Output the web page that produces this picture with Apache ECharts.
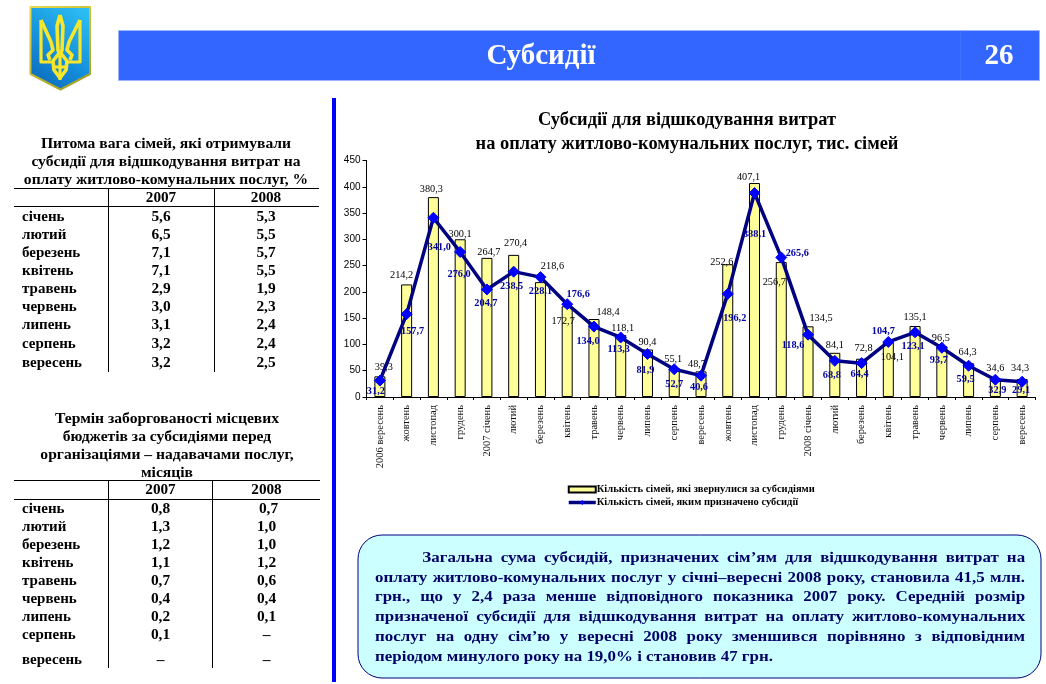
<!DOCTYPE html>
<html>
<head>
<meta charset="utf-8">
<style>
html,body{margin:0;padding:0;background:#fff;width:1046px;height:684px;overflow:hidden}
#c{position:absolute;left:0;top:0;width:1046px;height:684px}
#note{position:absolute;left:375px;top:547px;width:591px;transform:scaleX(1.1);transform-origin:0 0;font:bold 15.4px/19.7px "Liberation Serif",serif;color:#000066}
#note div{text-align:justify;text-align-last:justify;white-space:normal}
#note div.first{text-indent:43px}
#note div.last{text-align-last:left}
</style>
<script src="https://cdn.jsdelivr.net/npm/echarts@6/dist/echarts.min.js"></script>
</head>
<body>
<div id="c"></div>
<div id="note"></div>
<script>
const categories = ['2006 вересень','жовтень','листопад','грудень','2007 січень','лютий','березень','квітень','травень','червень','липень','серпень','вересень','жовтень','листопад','грудень','2008 січень','лютий','березень','квітень','травень','червень','липень','серпень','вересень'];
const applied = [39.3,214.2,380.3,300.1,264.7,270.4,218.6,172.7,148.4,118.1,90.4,55.1,48.7,252.6,407.1,256.7,134.5,84.1,72.8,104.1,135.1,96.5,64.3,34.6,34.3];
const granted = [31.2,157.7,341.0,276.0,204.7,238.5,228.1,176.6,134.0,113.3,81.9,52.7,40.6,196.2,388.1,265.6,118.6,68.8,64.4,104.7,123.1,93.7,59.5,32.9,29.1];
const seriesNames = ['Кількість сімей, які звернулися за субсидіями','Кількість сімей, яким призначено субсидії'];
const chartTitle = 'Субсидії для відшкодування витрат\nна оплату житлово-комунальних послуг, тис. сімей';
const months = ['січень','лютий','березень','квітень','травень','червень','липень','серпень','вересень'];
const share2007 = ['5,6','6,5','7,1','7,1','2,9','3,0','3,1','3,2','3,2'];
const share2008 = ['5,3','5,5','5,7','5,5','1,9','2,3','2,4','2,4','2,5'];
const debt2007 = ['0,8','1,3','1,2','1,1','0,7','0,4','0,2','0,1','–'];
const debt2008 = ['0,7','1,0','1,0','1,2','0,6','0,4','0,1','–','–'];
const table1Title = ['Питома вага сімей, які отримували','субсидії для відшкодування витрат на','оплату житлово-комунальних послуг, %'];
const table2Title = ['Термін заборгованості місцевих','бюджетів за субсидіями перед','організаціями – надавачами послуг,','місяців'];
const noteLines = ['Загальна сума субсидій, призначених сім’ям для відшкодування витрат на','оплату житлово-комунальних послуг у січні–вересні 2008 року, становила 41,5 млн.','грн., що у 2,4 раза менше відповідного показника 2007 року. Середній розмір','призначеної субсидії для відшкодування витрат на оплату житлово-комунальних','послуг на одну сім’ю у вересні 2008 року зменшився порівняно з відповідним','періодом минулого року на 19,0% і становив 47 грн.'];

// label nudges in px, hand-placed like the original
const barNudge = [[4,-2],[-5,-2],[-2,-1],[0,2],[2,1],[2,-5],[12,-9],[-4,22],[14,0],[2,0],[0,0],[-1,-2],[-4,0],[-6,5],[-6,1],[-7,27],[13,-1],[0,-1],[2,-3],[4,22],[0,-2],[-1,-1],[-1,-4],[0,-4],[-2,-4]];
const lineNudge = [[-4,11],[6,17],[6,30],[-1,22],[-1,14],[-2,15],[0,14],[11,-10],[-6,15],[-2,12],[-2,16],[0,15],[-2,12],[7,24],[0,41],[16,-4],[-15,11],[-3,14],[-2,11],[-5,-11],[-2,14],[-3,13],[-3,14],[2,11],[-1,9]];

const SERIF = '"Liberation Serif","Times New Roman",serif';
const fmt = v => v.toFixed(1).replace('.', ',');

const gfx = [];
function txt(x,y,s,o){ o=o||{}; gfx.push({type:'text',x:x,y:y,silent:true,z:o.z||5,style:{text:s,fill:o.fill||'#000',align:o.align||'center',verticalAlign:'middle',font:(o.weight||'bold')+' '+(o.size||14)+'px '+SERIF}}); }
function rect(x,y,w,h,fill,o){ o=o||{}; gfx.push({type:'rect',silent:true,z:o.z||2,shape:{x:x,y:y,width:w,height:h,r:o.r||0},style:{fill:fill,stroke:o.stroke||null,lineWidth:o.lw||0}}); }
function seg(x1,y1,x2,y2,c,w){ gfx.push({type:'line',silent:true,z:3,shape:{x1:x1,y1:y1,x2:x2,y2:y2},style:{stroke:c||'#000',lineWidth:w||1}}); }

// header bar
rect(118.5,30.5,921,50,'#3366ff',{stroke:'#9db4ff',lw:1});
seg(960.5,31,960.5,80,'#3f70ff',1);
txt(541,57,'Субсидії',{fill:'#fff',size:29});
txt(999,57,'26',{fill:'#fff',size:29});
// divider
rect(332,98,4,584,'#0000ff');

// emblem
const LG = {type:'linear',x:1,y:0,x2:0,y2:1,colorStops:[{offset:0,color:'#2fc4f6'},{offset:0.55,color:'#1590dc'},{offset:1,color:'#0a62b4'}]};
const EDGE = {type:'linear',x:0,y:0,x2:1,y2:1,colorStops:[{offset:0,color:'#e8d94a'},{offset:1,color:'#9a9a20'}]};
gfx.push({type:'polygon',silent:true,z:3,shape:{points:[[30.5,7],[90,7],[90,74],[60.5,89.5],[30.5,74]]},style:{fill:LG,stroke:EDGE,lineWidth:2,lineJoin:'round'}});
const Y='#f7e62a';
[
 [[60,15],[57,26],[58,50],[60,56],[62,50],[63,26],[60,15]],
 [[41,20],[41,62],[54,62]],
 [[41,20],[51,42],[53,50],[48,55],[50,60]],
 [[80,20],[80,62],[66,62]],
 [[80,20],[69,42],[67,50],[72,55],[70,60]],
 [[60,52],[53,61],[54,70],[60,78],[66,70],[67,61],[60,52]],
 [[60,56],[60,80]],
 [[53,67],[67,67]]
].forEach(p=>gfx.push({type:'polyline',silent:true,z:4,shape:{points:p},style:{stroke:Y,lineWidth:p.length>3?3.6:3.2,fill:null,lineJoin:'round'}}));

// tables
function table(cfg){
  cfg.title.forEach((s,i)=>txt(cfg.titleX,cfg.titleY+i*cfg.titleStep,s,{size:15.6}));
  seg(14,cfg.top,cfg.right,cfg.top); seg(14,cfg.head,cfg.right,cfg.head);
  seg(108.5,cfg.top,108.5,cfg.bottom); seg(cfg.col2,cfg.top,cfg.col2,cfg.bottom);
  txt(cfg.cx1,(cfg.top+cfg.head)/2+.5,'2007',{size:15.2}); txt(cfg.cx2,(cfg.top+cfg.head)/2+.5,'2008',{size:15.2});
  months.forEach((m,i)=>{
    txt(22,cfg.rows[i],m,{align:'left',size:15});
    txt(cfg.cx1,cfg.rows[i],cfg.a[i],{size:15.4});
    txt(cfg.cx2+(cfg.shift&&i===0?cfg.shift:0),cfg.rows[i],cfg.b[i],{size:15.4});
  });
}
table({title:table1Title,titleX:166,titleY:143.5,titleStep:18.3,top:188.5,head:206.5,bottom:372,right:319,col2:214.5,cx1:161,cx2:266,rows:[217,235,253,271,289,307,325,344,363],a:share2007,b:share2008});
table({title:table2Title,titleX:167,titleY:418.5,titleStep:18.2,top:480.5,head:499.5,bottom:668,right:320,col2:212.5,cx1:160.5,cx2:266.5,shift:2,rows:[509,527,545,563,581,599,617,635,660],a:debt2007,b:debt2008});

// note box
rect(358,535,683,143,'#ccffff',{r:24,stroke:'#000080',lw:1,z:1});

const option = {
  animation:false,
  backgroundColor:'#fff',
  title:{show:true,text:chartTitle,left:682,top:103,textAlign:'center',
    textStyle:{fontFamily:SERIF,fontWeight:'bold',fontSize:18.4,color:'#000',lineHeight:24}},
  graphic:{elements:gfx},
  textStyle:{fontFamily:SERIF},
  grid:{left:366.5,right:10.5,top:160.5,bottom:287},
  legend:{
    left:562,top:479,orient:'vertical',itemWidth:27,itemHeight:6,itemGap:2,
    lineStyle:{width:3.5,color:'#000080'},
    textStyle:{fontFamily:SERIF,fontWeight:'bold',fontSize:10.5,color:'#000',padding:[0,0,0,-4]},
    data:[{name:seriesNames[0],icon:'rect'},{name:seriesNames[1]}]
  },
  xAxis:{
    type:'category',data:categories,boundaryGap:true,
    axisLine:{lineStyle:{color:'#000',width:1}},
    axisTick:{show:true,alignWithLabel:false,length:3,lineStyle:{color:'#000'}},
    axisLabel:{rotate:90,interval:0,fontSize:10.5,color:'#111',margin:8,fontFamily:SERIF}
  },
  yAxis:{
    type:'value',min:0,max:450,interval:50,
    splitLine:{show:false},
    axisLine:{show:true,lineStyle:{color:'#000',width:1}},
    axisTick:{show:true,length:4,lineStyle:{color:'#000'}},
    axisLabel:{fontSize:10,color:'#000',margin:6,fontFamily:'"Liberation Sans",Arial,sans-serif'}
  },
  series:[
    {name:seriesNames[0],type:'bar',barWidth:11,
     itemStyle:{color:'#ffff99',borderColor:'#000',borderWidth:1},
     data:applied.map((v,i)=>({value:v,label:{show:true,position:'top',distance:2,offset:barNudge[i],formatter:fmt(v),fontSize:10.3,color:'#000',fontFamily:SERIF}}))},
    {name:seriesNames[1],type:'line',symbol:'diamond',symbolSize:11,
     lineStyle:{color:'#000080',width:3.5},
     itemStyle:{color:'#0000ff',borderColor:'#0000ff'},
     z:5,
     data:granted.map((v,i)=>({value:v,label:{show:true,position:'inside',offset:lineNudge[i],formatter:fmt(v),fontSize:10.3,fontWeight:'bold',color:'#0000a0',fontFamily:SERIF}}))}
  ]
};
echarts.init(document.getElementById('c'),null,{width:1046,height:684}).setOption(option);

const note=document.getElementById('note');
noteLines.forEach((s,i)=>{const d=document.createElement('div');d.textContent=s;if(i===0)d.className='first';if(i===noteLines.length-1)d.className='last';note.appendChild(d);});
</script>
</body>
</html>
